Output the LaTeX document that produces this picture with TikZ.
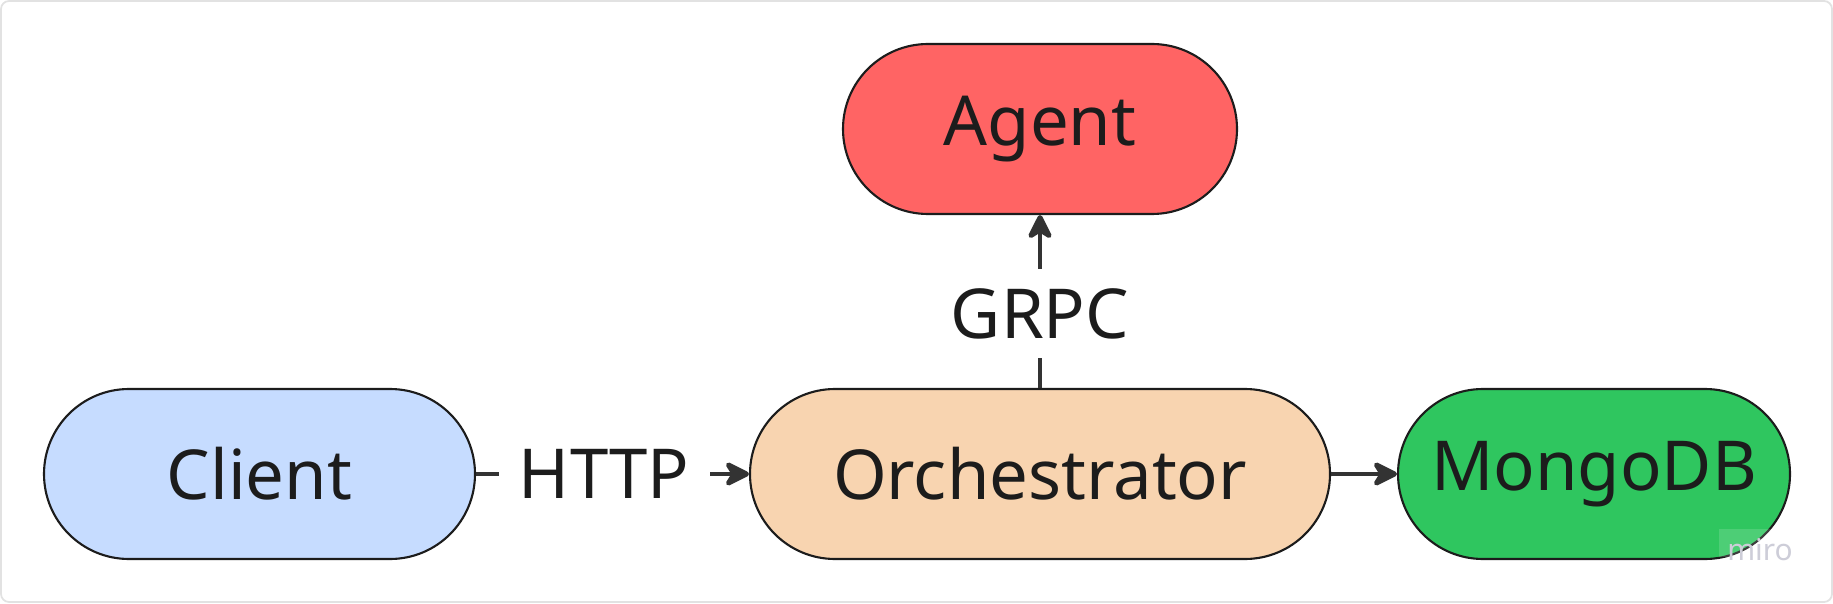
\documentclass[tikz,border=0pt]{standalone}
\usepackage{fontspec}
\setmainfont{Noto Sans}
\usepackage{tikz}
\usetikzlibrary{arrows.meta, positioning}

\definecolor{clientblue}{HTML}{C6DCFF}
\definecolor{orchorange}{HTML}{F8D4B0}
\definecolor{agentred}{HTML}{FF6464}
\definecolor{mongogreen}{HTML}{2FC65F}
\definecolor{inkgray}{HTML}{1C1C1C}
\definecolor{linkgray}{HTML}{333333}
\definecolor{framegray}{HTML}{E2E2E2}
\definecolor{mirogray}{HTML}{CDCDD8}

\tikzset{
  pill/.style={draw=inkgray, line width=0.6pt, rounded corners=0.85cm,
    minimum height=1.7cm, inner sep=0pt, text=inkgray, font=\fontsize{19.6}{22}\selectfont},
  link/.style={linkgray, line width=1.4pt, -{Stealth[length=8.5pt, width=8.5pt, inset=2.6pt, round]}},
  linklabel/.style={fill=white, text=inkgray, font=\fontsize{19.6}{22}\selectfont,
    text height=0.49cm, text depth=0pt, inner xsep=0.2cm, inner ysep=0.2cm}
}

\begin{document}
\begin{tikzpicture}
\draw[framegray, line width=0.5pt, fill=white, rounded corners=0.08cm] (0.01,0.01) rectangle (18.32,6.02);
\useasboundingbox (0,0) rectangle (18.33,6.03);

\node[pill, fill=clientblue, minimum width=4.31cm] (client) at (2.595,1.29) {Client};
\node[pill, fill=orchorange, minimum width=5.80cm] (orch) at (10.40,1.29) {Orchestrator};
\node[pill, fill=mongogreen, minimum width=3.92cm] (mongo) at (15.94,1.29) {MongoDB};
\node[pill, fill=agentred, minimum width=3.94cm] (agent) at (10.40,4.74) {Agent};

\draw[link] (client) -- node[linklabel, pos=0.47]{HTTP} (orch);
\draw[link] (orch) -- node[linklabel, pos=0.43]{GRPC} (agent);
\draw[link] (orch) -- (mongo);

% watermark
\fill[white, opacity=0.15] (17.19,0.46) rectangle (17.90,0.74);
\node[anchor=base, text=mirogray, inner sep=0pt, font=\fontsize{8.5}{10}\selectfont] (miro) at (17.60,0.43) {miro};
\end{tikzpicture}
\end{document}
